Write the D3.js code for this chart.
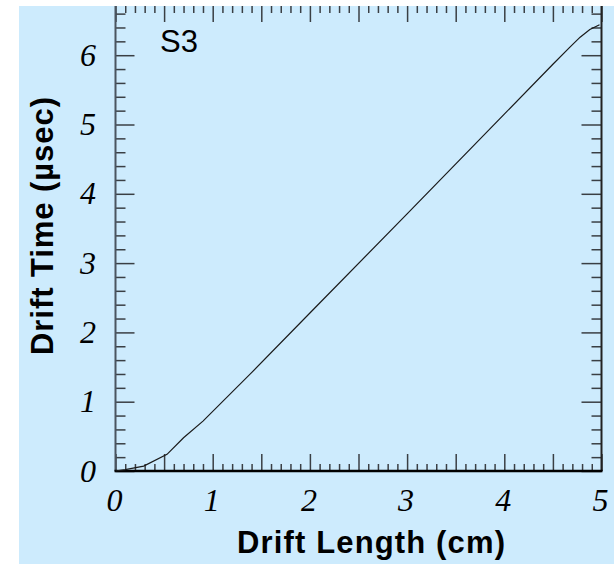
<!DOCTYPE html>
<html>
<head>
<meta charset="utf-8">
<script src="https://cdn.jsdelivr.net/npm/d3@7"></script>
<style>
  html, body { margin: 0; padding: 0; background: #ffffff; }
  svg { display: block; }
</style>
</head>
<body>
<svg id="chart" width="614" height="564"></svg>
<script>
// ---- data ----
const driftLength = [0, 0.1, 0.29, 0.53, 0.70, 0.90, 1.40, 2.0, 3.0, 4.0, 4.5, 4.67, 4.78, 4.88, 4.98];
const driftTime   = [0, 0.02, 0.07, 0.24, 0.48, 0.72, 1.42, 2.28, 3.71, 5.15, 5.87, 6.11, 6.26, 6.37, 6.44];
const xTickLabels = [0, 1, 2, 3, 4, 5];
const yTickLabels = [0, 1, 2, 3, 4, 5, 6];
const panelLabel = "S3";
const xTitle = "Drift Length (cm)";
const yTitle = "Drift Time (\u00b5sec)";

(function () {
const svg = d3.select("#chart");
const W = 614, H = 564;

// background panel
svg.append("rect").attr("x", 19).attr("y", 6).attr("width", W - 19).attr("height", H - 6)
  .attr("fill", "#cdebfd");

const pL = 115.5, pR = 601.5, pT = 6, pB = 471;
const x = d3.scaleLinear().domain([0, 5]).range([pL, pR]);
const y = d3.scaleLinear().domain([0, 6.71]).range([pB, pT]);

const rng = (a, b, s) => d3.range(Math.round((b - a) / s) + 1).map(i => +(a + i * s).toFixed(4));
const xMajor = rng(0, 5, 0.5), xMinor = rng(0, 5, 0.1).filter(v => !xMajor.includes(v));
const yMajor = rng(0, 6, 1), yMinor = rng(0, 6.6, 0.2).filter(v => !yMajor.includes(v));

const tickCol = "#3a3f44";
function styleAxis(g) {
  g.select(".domain").remove();
  g.selectAll(".tick line").attr("stroke", tickCol).attr("stroke-width", 1.5);
  g.selectAll(".tick text").remove();
}
// bottom
svg.append("g").attr("transform", `translate(0,${pB})`)
  .call(d3.axisBottom(x).tickValues(xMajor).tickSize(-17)).call(styleAxis);
svg.append("g").attr("transform", `translate(0,${pB})`)
  .call(d3.axisBottom(x).tickValues(xMinor).tickSize(-7)).call(styleAxis);
// top
svg.append("g").attr("transform", `translate(0,${pT})`)
  .call(d3.axisTop(x).tickValues(xMajor).tickSize(-16)).call(styleAxis);
svg.append("g").attr("transform", `translate(0,${pT})`)
  .call(d3.axisTop(x).tickValues(xMinor).tickSize(-7)).call(styleAxis);
// left
svg.append("g").attr("transform", `translate(${pL},0)`)
  .call(d3.axisLeft(y).tickValues(yMajor).tickSize(-19)).call(styleAxis);
svg.append("g").attr("transform", `translate(${pL},0)`)
  .call(d3.axisLeft(y).tickValues(yMinor).tickSize(-10)).call(styleAxis);
// right
svg.append("g").attr("transform", `translate(${pR},0)`)
  .call(d3.axisRight(y).tickValues(yMajor).tickSize(-20)).call(styleAxis);
svg.append("g").attr("transform", `translate(${pR},0)`)
  .call(d3.axisRight(y).tickValues(yMinor).tickSize(-10)).call(styleAxis);

// frame lines
svg.append("line").attr("x1", pL).attr("x2", pL).attr("y1", pT).attr("y2", pB)
  .attr("stroke", "#4a5560").attr("stroke-width", 2);
svg.append("line").attr("x1", pR).attr("x2", pR).attr("y1", pT).attr("y2", pB)
  .attr("stroke", "#222").attr("stroke-width", 2);
svg.append("line").attr("x1", pL - 1).attr("x2", pR + 1).attr("y1", pB).attr("y2", pB)
  .attr("stroke", "#000").attr("stroke-width", 2.5);

// curve
const pts = driftLength.map((d, i) => [d, driftTime[i]]);
svg.append("path").datum(pts)
  .attr("fill", "none").attr("stroke", "#1a1a1a").attr("stroke-width", 1.2)
  .attr("d", d3.line().x(d => x(d[0])).y(d => y(d[1])));

// tick labels
const tickFont = "'Liberation Serif', 'Times New Roman', serif";
svg.append("g").selectAll("text").data(xTickLabels).join("text")
  .attr("x", d => x(d) - 1).attr("y", 511)
  .attr("text-anchor", "middle")
  .attr("font-family", tickFont).attr("font-style", "italic").attr("font-size", 32)
  .attr("fill", "#000").text(d => d);
svg.append("g").selectAll("text").data(yTickLabels).join("text")
  .attr("x", 96).attr("y", d => y(d)).attr("dy", "0.33em")
  .attr("text-anchor", "end")
  .attr("font-family", tickFont).attr("font-style", "italic").attr("font-size", 32)
  .attr("fill", "#000").text(d => d);

// titles
const titleFont = "'Liberation Sans', Arial, Helvetica, sans-serif";
svg.append("text").attr("x", 371).attr("y", 553)
  .attr("text-anchor", "middle")
  .attr("font-family", titleFont).attr("font-weight", "bold").attr("font-size", 31)
  .attr("textLength", 268).attr("lengthAdjust", "spacing")
  .text(xTitle);
svg.append("text")
  .attr("transform", `translate(53,226) rotate(-90)`)
  .attr("text-anchor", "middle")
  .attr("font-family", titleFont).attr("font-weight", "bold").attr("font-size", 31)
  .attr("textLength", 258).attr("lengthAdjust", "spacing")
  .text(yTitle);

// panel label
svg.append("text").attr("x", 160).attr("y", 52)
  .attr("font-family", titleFont).attr("font-size", 31)
  .attr("fill", "#000").text(panelLabel);
})();
</script>
</body>
</html>
